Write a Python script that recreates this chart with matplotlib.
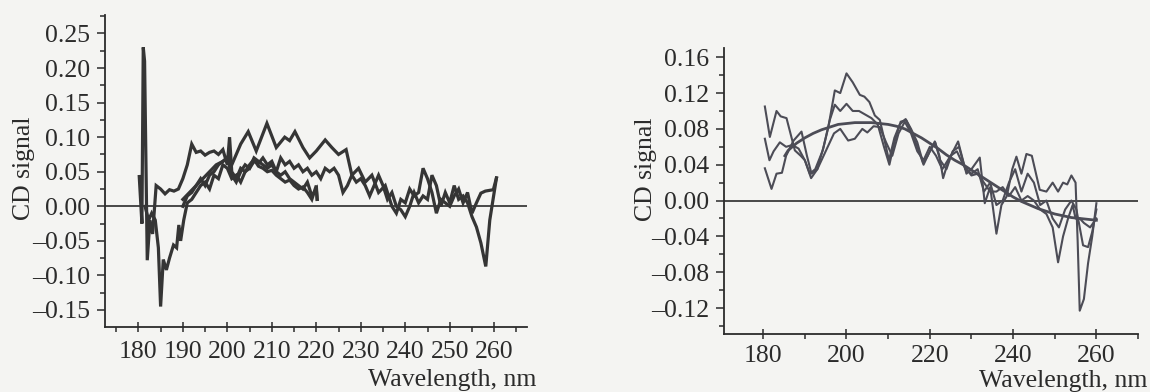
import matplotlib.pyplot as plt
from matplotlib.ticker import MultipleLocator, FuncFormatter

# ── Left panel: four CD spectra ───────────────────────────────────────────────
left_a_x = [180.2, 180.8, 181.1, 181.4, 182.0, 182.6, 183.2, 184.0, 185, 186, 187, 188, 189, 190,
            191, 192, 193, 194, 195, 196, 197, 198, 199, 200, 200.5, 201, 202, 203, 204, 205,
            206, 207, 208, 209, 210, 211, 212, 213, 214, 215, 216, 217, 218, 219, 220, 220.2]
left_a_y = [0.043, -0.025, 0.23, 0.21, -0.078, -0.02, -0.04, 0.03, 0.025, 0.018, 0.024, 0.022,
            0.025, 0.04, 0.06, 0.09, 0.078, 0.08, 0.074, 0.078, 0.08, 0.075, 0.082, 0.06, 0.1,
            0.05, 0.04, 0.055, 0.05, 0.06, 0.068, 0.058, 0.055, 0.05, 0.052, 0.045, 0.04, 0.035,
            0.038, 0.03, 0.025, 0.028, 0.02, 0.01, 0.03, 0.01]

left_b_x = [181.5, 182.3, 183, 183.8, 184.5, 185.0, 185.6, 186.3, 187, 187.9, 188.6, 189.1, 189.5,
            190.2, 191, 192, 193, 194, 195, 196, 197, 198, 199, 200, 201, 202, 203, 204, 205,
            206, 207, 208, 209, 210, 211, 212, 213, 214, 215, 216, 217, 218, 219, 220, 221, 222,
            223, 224, 225, 226, 227, 228, 229, 230, 231, 232, 233, 234, 235, 236, 237, 238, 239,
            240, 241, 242, 243, 244, 245, 246, 247, 248, 249, 250, 251, 252, 253, 254, 255, 256,
            257, 258.1, 259, 260.5]
left_b_y = [0.0, -0.02, -0.01, -0.02, -0.06, -0.145, -0.077, -0.092, -0.075, -0.056, -0.06, -0.027,
            -0.05, -0.02, 0.005, 0.01, 0.02, 0.03, 0.035, 0.025, 0.045, 0.04, 0.06, 0.055, 0.04,
            0.045, 0.035, 0.05, 0.055, 0.065, 0.062, 0.07, 0.06, 0.065, 0.05, 0.07, 0.06, 0.065,
            0.055, 0.06, 0.05, 0.055, 0.045, 0.05, 0.04, 0.055, 0.05, 0.055, 0.045, 0.02, 0.03,
            0.045, 0.035, 0.04, 0.03, 0.015, 0.03, 0.045, 0.03, 0.01, 0.02, 0.0, -0.005, -0.015,
            0.0, 0.02, 0.005, 0.015, 0.01, 0.045, 0.03, 0.0, 0.02, 0.005, 0.03, 0.01, 0.015, 0.005,
            -0.015, -0.03, -0.053, -0.087, -0.02, 0.041]

left_c_x = [190, 191.5, 193, 194.5, 196, 197.5, 199, 200, 201, 202, 203, 204.7, 206.5, 208.9, 211,
            212.9, 214, 215.2, 217, 218.5, 220, 222, 223.5, 225, 226.7, 228, 229.5, 231, 232.5,
            234, 235.5, 237, 238, 239, 240, 241, 242, 243, 244, 245, 246, 247, 248, 249, 250, 251,
            252, 253, 254, 255, 256, 257, 258, 259.8, 260.5]
left_c_y = [0.01, 0.02, 0.03, 0.04, 0.05, 0.06, 0.065, 0.07, 0.06, 0.075, 0.09, 0.108, 0.08, 0.12,
            0.085, 0.1, 0.095, 0.108, 0.085, 0.07, 0.08, 0.096, 0.085, 0.075, 0.082, 0.045, 0.055,
            0.035, 0.045, 0.02, 0.03, 0.0, -0.01, 0.01, 0.005, 0.025, 0.015, 0.02, 0.055, 0.04,
            0.02, -0.01, 0.01, 0.005, 0.0, 0.015, 0.025, 0.005, 0.02, -0.01, 0.005, 0.019, 0.022,
            0.024, 0.041]

left_d_x = [190, 191, 192, 193, 194, 195, 196, 197, 198, 199, 200, 201, 202, 203, 204, 205, 206,
            207, 208, 209, 210, 211, 212, 213, 214, 215, 216, 217, 218, 219, 220, 220.2]
left_d_y = [0.0, 0.015, 0.02, 0.03, 0.04, 0.03, 0.045, 0.05, 0.06, 0.065, 0.07, 0.045, 0.035, 0.05,
            0.06, 0.055, 0.07, 0.065, 0.06, 0.055, 0.06, 0.05, 0.045, 0.05, 0.04, 0.035, 0.03,
            0.025, 0.035, 0.015, 0.025, 0.01]

# ── Right panel: three CD spectra + smoothed curve ───────────────────────────
right_a_x = [180.4, 181.6, 183.2, 184.2, 185.6, 187.6, 189, 190, 191.2, 192.5, 194.3, 195.6, 197.2,
             198.5, 200, 201.5, 203.2, 204.3, 205.5, 206.8, 208, 209, 210.2, 211.5, 212.8, 214.2,
             215.5, 217, 218.4, 219.5, 221.2, 222.3, 223.2, 224.5, 226.8, 228.8, 230, 232, 233.2,
             234.5, 236, 237.2, 238.5, 239.8, 240.8, 242, 243.2, 244.5, 246.4, 248, 249.5, 250.8,
             252, 253, 254, 255, 255.5, 256, 257, 258, 259, 260]
right_a_y = [0.105, 0.071, 0.1, 0.094, 0.092, 0.056, 0.05, 0.045, 0.03, 0.035, 0.056, 0.081, 0.123,
             0.12, 0.142, 0.132, 0.118, 0.116, 0.11, 0.095, 0.09, 0.07, 0.045, 0.07, 0.085, 0.091,
             0.08, 0.065, 0.042, 0.05, 0.066, 0.05, 0.025, 0.045, 0.066, 0.03, 0.035, 0.048,
             -0.003, 0.015, -0.037, -0.005, 0.005, 0.035, 0.049, 0.03, 0.052, 0.05, 0.012, 0.01,
             0.02, 0.01, 0.02, 0.018, 0.028, 0.02, -0.045, -0.123, -0.11, -0.07, -0.04, -0.003]

right_b_x = [180.4, 181.5, 182.5, 184, 185.5, 187, 188.5, 190, 191.5, 193, 194.5, 196, 197.2, 198.5,
             200, 201.5, 203, 204.5, 206, 207.5, 209, 210.3, 211.5, 213, 214.3, 215.5, 217, 218.5,
             220, 221.3, 222.5, 224, 225.5, 227, 228.5, 230, 231.5, 233, 234.5, 236, 237.5, 239,
             240.5, 242, 243.5, 245, 246.5, 248, 249.5, 251, 252.5, 254, 255.2, 256, 256.8, 258,
             259, 260]
right_b_y = [0.069, 0.045, 0.055, 0.065, 0.06, 0.062, 0.058, 0.045, 0.025, 0.035, 0.06, 0.09, 0.107,
             0.1, 0.108, 0.1, 0.1, 0.096, 0.092, 0.085, 0.06, 0.04, 0.065, 0.088, 0.09, 0.078,
             0.06, 0.04, 0.055, 0.065, 0.045, 0.035, 0.055, 0.06, 0.035, 0.03, 0.035, 0.01, 0.02,
             -0.005, 0.0, 0.02, 0.035, 0.01, 0.03, 0.02, -0.005, 0.0, -0.02, -0.03, -0.01, 0.0,
             -0.01, -0.03, -0.05, -0.052, -0.035, -0.01]

right_c_x = [180.4, 182, 183.2, 184.5, 185.5, 187.3, 189.2, 190.5, 191.6, 193, 194.5, 195.5, 197,
             198.5, 200.4, 202, 203.8, 205, 206.5, 208, 209.5, 211, 212.5, 214, 215.5, 217, 218.5,
             220, 221.5, 223, 225, 226.5, 228, 230, 231.5, 233, 234.5, 236, 237.5, 239, 240.5,
             242, 243.5, 245, 246.5, 248, 249.5, 250.8, 252, 253.2, 254.3, 255, 256, 257, 258.5,
             260]
right_c_y = [0.036, 0.013, 0.03, 0.031, 0.05, 0.067, 0.077, 0.05, 0.03, 0.035, 0.05, 0.06, 0.075,
             0.08, 0.067, 0.069, 0.08, 0.076, 0.083, 0.082, 0.065, 0.05, 0.075, 0.088, 0.075,
             0.055, 0.045, 0.06, 0.05, 0.035, 0.05, 0.055, 0.04, 0.028, 0.03, 0.02, 0.01, 0.01,
             0.015, 0.005, 0.015, 0.0, 0.005, 0.0, -0.01, -0.015, -0.03, -0.069, -0.04, -0.02,
             -0.005, -0.02, -0.02, -0.025, -0.03, -0.02]

smooth_x = [185.2, 186, 188, 190, 192, 194, 196, 198, 200, 202, 204, 206, 208, 210, 212, 214, 216,
            218, 220, 222, 224, 226, 228, 230, 232, 234, 236, 238, 240, 242, 244, 246, 248, 250,
            252, 254, 256, 258, 260]
smooth_y = [0.05, 0.056, 0.064, 0.07, 0.075, 0.079, 0.082, 0.085, 0.086, 0.087, 0.087, 0.087,
            0.086, 0.085, 0.083, 0.08, 0.075, 0.07, 0.064, 0.058, 0.051, 0.045, 0.04, 0.034,
            0.028, 0.022, 0.016, 0.01, 0.004, -0.001, -0.005, -0.009, -0.012, -0.015, -0.017,
            -0.019, -0.020, -0.021, -0.022]

PAPER = "#f4f4f2"
INK = "#2b2b2b"
LINE_L = "#353535"
LINE_R = "#4c4c56"

plt.rcParams["font.family"] = ["Liberation Serif", "DejaVu Serif"]
plt.rcParams["font.size"] = 18.5

fig = plt.figure(figsize=(11.5, 3.92), dpi=100, facecolor=PAPER)
ax1 = fig.add_axes([0.0913, 0.1658, 0.3667, 0.7959], facecolor=PAPER)
ax2 = fig.add_axes([0.6296, 0.148, 0.3600, 0.7288], facecolor=PAPER)

# printed labels use an en dash for the minus sign
dash_fmt = FuncFormatter(lambda v, pos: f"{v:.2f}".replace("-", "\u2013") if abs(v) > 1e-9 else "0.00")


def style_axes(ax, xpad):
    for side in ("top", "right"):
        ax.spines[side].set_visible(False)
    for side in ("left", "bottom"):
        ax.spines[side].set_color(INK)
        ax.spines[side].set_linewidth(1.3)
    ax.tick_params(which="both", colors=INK, labelcolor=INK, labelsize=18.5, width=1.1)
    ax.tick_params(axis="y", which="major", direction="out", length=5.5, pad=5)
    ax.tick_params(axis="y", which="minor", direction="out", length=3.5)
    ax.tick_params(axis="x", which="major", direction="inout", length=7, pad=xpad)
    ax.tick_params(axis="x", which="minor", direction="out", length=3.5)
    ax.yaxis.set_major_formatter(dash_fmt)
    ax.axhline(0, color=INK, linewidth=1.2, zorder=1)


# left
for xs, ys in [(left_a_x, left_a_y), (left_b_x, left_b_y), (left_c_x, left_c_y),
               (left_d_x, left_d_y)]:
    ax1.plot(xs, ys, color=LINE_L, linewidth=2.3, solid_joinstyle="miter", zorder=3)
style_axes(ax1, 6.5)
ax1.set_xlim(172.5, 267.3)
ax1.set_ylim(-0.1746, 0.2767)
ax1.xaxis.set_major_locator(MultipleLocator(10))
ax1.xaxis.set_minor_locator(MultipleLocator(5))
ax1.yaxis.set_major_locator(MultipleLocator(0.05))
ax1.yaxis.set_minor_locator(MultipleLocator(0.025))

# right
for xs, ys in [(right_a_x, right_a_y), (right_b_x, right_b_y), (right_c_x, right_c_y)]:
    ax2.plot(xs, ys, color=LINE_R, linewidth=1.5, zorder=3)
ax2.plot(smooth_x, smooth_y, color=LINE_R, linewidth=2.0, zorder=4)
style_axes(ax2, 4.5)
ax2.set_xlim(170.6, 270)
ax2.set_ylim(-0.149, 0.170)
ax2.xaxis.set_major_locator(MultipleLocator(20))
ax2.xaxis.set_minor_locator(MultipleLocator(10))
ax2.yaxis.set_major_locator(MultipleLocator(0.04))
ax2.yaxis.set_minor_locator(MultipleLocator(0.02))

# axis titles placed like the printed figure
fig.text(0.021, 0.571, "CD signal", rotation=90, ha="center", va="center", color=INK, fontsize=18.5)
fig.text(0.5617, 0.569, "CD signal", rotation=90, ha="center", va="center", color=INK, fontsize=18.5)
fig.text(0.466, 0.031, "Wavelength, nm", ha="right", va="center", color=INK, fontsize=18.5)
fig.text(0.998, 0.029, "Wavelength, nm", ha="right", va="center", color=INK, fontsize=18.5)

fig.savefig("out.png", dpi=100, facecolor=PAPER)
